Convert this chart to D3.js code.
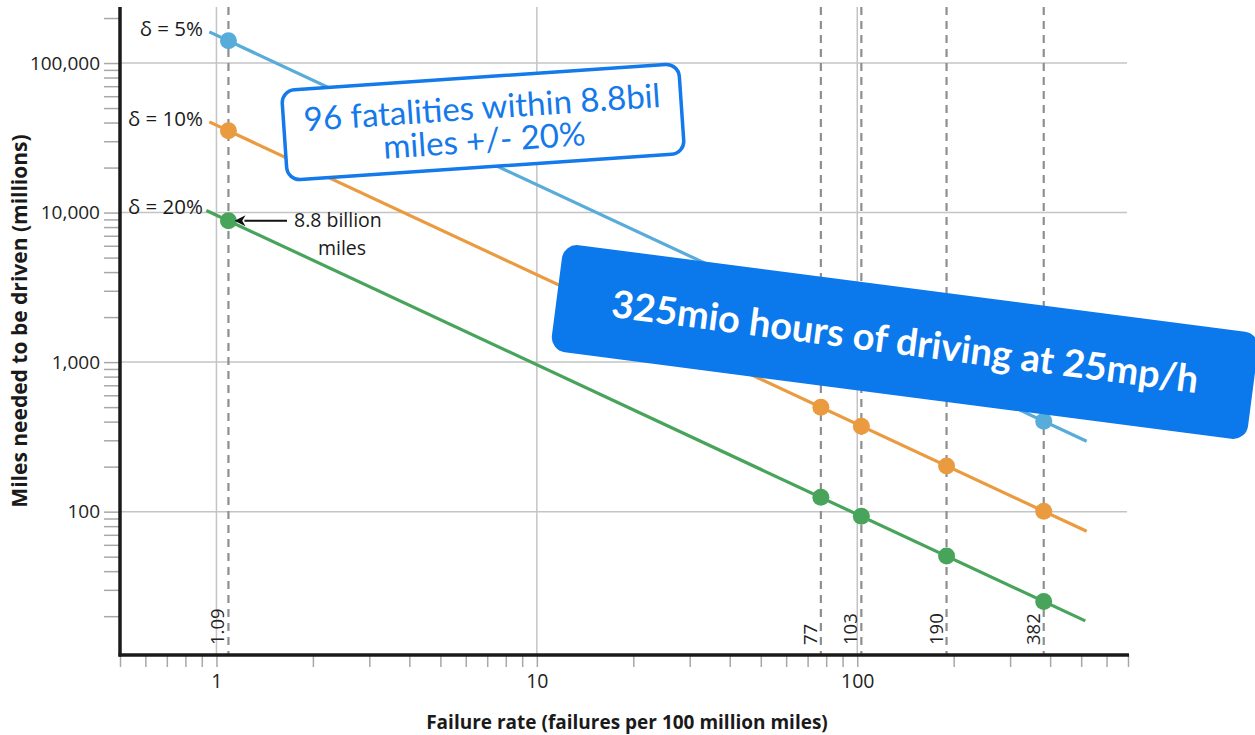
<!DOCTYPE html>
<html>
<head>
<meta charset="utf-8">
<script src="https://cdn.jsdelivr.net/npm/d3@7"></script>
<style>
  html, body { margin: 0; padding: 0; background: #fff; }
  svg { display: block; }
</style>
</head>
<body>
<svg id="chart" width="1255" height="735"></svg>
<script>
// Failure rates (failures per 100 million miles) marked with dashed reference lines
const markedRates = [1.09, 77, 103, 190, 382];
const markedLabels = ["1.09", "77", "103", "190", "382"];

// Precision levels and the miles (millions) needed at each marked rate
const seriesNames = ["δ = 5%", "δ = 10%", "δ = 20%"];
const seriesColors = ["#58acd9", "#eb9b3f", "#48a45a"];
const milesDelta5 = [141000, 1995, 1492, 809, 402];
const milesDelta10 = [35240, 499, 373, 202, 100.6];
const milesDelta20 = [8811, 124.7, 93.2, 50.5, 25.1];

// Line extents for each series: [rate, miles]
const lineDelta5 = [[0.95, 161700], [520, 295.5]];
const lineDelta10 = [[0.95, 40440], [520, 73.9]];
const lineDelta20 = [[0.93, 10330], [515, 18.6]];

// Axis ticks
const xTickLabels = [1, 10, 100];
const yTickLabels = [100, 1000, 10000, 100000];

const svg = d3.select("#chart");
const font = "'Open Sans', 'Noto Sans', sans-serif";
const noteFont = "'Lato', 'Open Sans', sans-serif";

const x = d3.scaleLog().domain([0.5, 700]).range([120, 1128]);
const y = d3.scaleLog().domain([11, 237000]).range([655, 7]);

const gridColor = "#c4c4c4";
const tickColor = "#a8a8a8";

// Horizontal grid at labelled decades
svg.append("g").selectAll("line").data(yTickLabels).join("line")
  .attr("x1", 120).attr("x2", 1127)
  .attr("y1", d => y(d)).attr("y2", d => y(d))
  .attr("stroke", gridColor).attr("stroke-width", 1.5);

// Vertical grid at labelled decades
svg.append("g").selectAll("line").data(xTickLabels).join("line")
  .attr("x1", d => x(d)).attr("x2", d => x(d))
  .attr("y1", 7).attr("y2", 655)
  .attr("stroke", gridColor).attr("stroke-width", 1.5);

// Dashed reference lines at the marked rates
svg.append("g").selectAll("line").data(markedRates).join("line")
  .attr("x1", d => x(d)).attr("x2", d => x(d))
  .attr("y1", 7).attr("y2", 655)
  .attr("stroke", "#8f8f8f").attr("stroke-width", 2.2)
  .attr("stroke-dasharray", "8,6");

// Rotated labels for the reference lines
svg.append("g").selectAll("text").data(markedRates).join("text")
  .attr("transform", d => `translate(${x(d) - 4},645) rotate(-90)`)
  .attr("font-family", font).attr("font-size", 18.5).attr("fill", "#222")
  .attr("text-anchor", "start")
  .text((d, i) => markedLabels[i]);

// X axis: ticks hang below the baseline
const xAxis = d3.axisBottom(x)
  .tickValues(d3.range(5, 10).map(v => v / 10)
    .concat(d3.range(1, 10), d3.range(10, 100, 10), d3.range(100, 701, 100)))
  .tickSize(12)
  .tickFormat(d => xTickLabels.includes(d) ? d3.format(",")(d) : "");
const gx = svg.append("g").attr("transform", "translate(0,655)").call(xAxis);
gx.select(".domain").remove();
gx.selectAll(".tick line").attr("stroke", tickColor).attr("stroke-width", 1.5);
gx.selectAll(".tick text").attr("font-family", font).attr("font-size", 19.5)
  .attr("fill", "#222").attr("dy", "0.93em");

// Y axis: ticks on the outer side
const yAxis = d3.axisLeft(y)
  .tickValues(d3.range(20, 100, 10).concat(d3.range(100, 1000, 100), d3.range(1000, 10000, 1000),
    d3.range(10000, 100000, 10000), [100000, 200000]))
  .tickSize(15)
  .tickFormat(d => yTickLabels.includes(d) ? d3.format(",")(d) : "");
const gy = svg.append("g").attr("transform", "translate(119,0)").call(yAxis);
gy.select(".domain").remove();
gy.selectAll(".tick line").attr("stroke", tickColor).attr("stroke-width", 1.5);
gy.selectAll(".tick text").attr("font-family", font).attr("font-size", 19)
  .attr("fill", "#222").attr("x", -19);

// Axis frame lines
svg.append("line").attr("x1", 120).attr("x2", 120).attr("y1", 7).attr("y2", 656.5)
  .attr("stroke", "#1a1a1a").attr("stroke-width", 3.5);
svg.append("line").attr("x1", 118.5).attr("x2", 1129).attr("y1", 655).attr("y2", 655)
  .attr("stroke", "#1a1a1a").attr("stroke-width", 3.5);

// Axis titles
svg.append("text")
  .attr("transform", "translate(27,321) rotate(-90)")
  .attr("text-anchor", "middle").attr("font-family", font).attr("font-weight", 700)
  .attr("font-size", 21).attr("fill", "#1a1a1a")
  .text("Miles needed to be driven (millions)");
svg.append("text")
  .attr("x", 627).attr("y", 729)
  .attr("text-anchor", "middle").attr("font-family", font).attr("font-weight", 700)
  .attr("font-size", 19).attr("fill", "#1a1a1a")
  .text("Failure rate (failures per 100 million miles)");

// Series lines and points
const lines = [lineDelta5, lineDelta10, lineDelta20];
const points = [milesDelta5, milesDelta10, milesDelta20];
const line = d3.line().x(d => x(d[0])).y(d => y(d[1]));

lines.forEach((ln, i) => {
  svg.append("path").datum(ln)
    .attr("d", line).attr("fill", "none")
    .attr("stroke", seriesColors[i]).attr("stroke-width", 3.2);
});
points.forEach((vals, i) => {
  svg.append("g").selectAll("circle").data(vals).join("circle")
    .attr("cx", (d, j) => x(markedRates[j])).attr("cy", d => y(d))
    .attr("r", 8.5).attr("fill", seriesColors[i]);
});

// Series labels at the left end of each line
lines.forEach((ln, i) => {
  svg.append("text")
    .attr("x", 203).attr("y", y(ln[0][1]) + 4)
    .attr("text-anchor", "end").attr("font-family", font)
    .attr("font-size", 20.5).attr("font-weight", 500).attr("fill", "#1a1a1a")
    .text(seriesNames[i]);
});

// Callout for the 8.8 billion miles point
const calloutX = x(markedRates[0]);
const calloutY = y(milesDelta20[0]);
svg.append("defs").append("marker")
  .attr("id", "arrowHead").attr("viewBox", "0 0 10 10")
  .attr("refX", 1).attr("refY", 5).attr("markerWidth", 5.5).attr("markerHeight", 5.5)
  .attr("orient", "auto-start-reverse")
  .append("path").attr("d", "M0,0 L10,5 L0,10 L3,5 Z").attr("fill", "#111");
svg.append("line")
  .attr("x1", 287).attr("y1", calloutY).attr("x2", calloutX + 16).attr("y2", calloutY)
  .attr("stroke", "#111").attr("stroke-width", 2)
  .attr("marker-end", "url(#arrowHead)");
svg.append("text").attr("x", 294).attr("y", calloutY + 6)
  .attr("text-anchor", "start").attr("font-family", font).attr("font-size", 19.5)
  .attr("font-weight", 500).attr("fill", "#1a1a1a").text("8.8 billion");
svg.append("text").attr("x", 342).attr("y", calloutY + 34)
  .attr("text-anchor", "middle").attr("font-family", font).attr("font-size", 19.5)
  .attr("font-weight", 500).attr("fill", "#1a1a1a").text("miles");

// Annotation: outlined note
const note1 = svg.append("g").attr("transform", "translate(483,122) rotate(-3.9)");
note1.append("rect")
  .attr("x", -199).attr("y", -45).attr("width", 398).attr("height", 90)
  .attr("rx", 13).attr("fill", "#fff")
  .attr("stroke", "#1479ea").attr("stroke-width", 3.5);
note1.append("text").attr("text-anchor", "middle")
  .attr("font-family", noteFont).attr("font-size", 33)
  .attr("fill", "#1479ea")
  .selectAll("tspan").data(["96 fatalities within 8.8bil", "miles +/- 20%"]).join("tspan")
  .attr("x", 0).attr("y", (d, i) => -3 + i * 33)
  .text(d => d);

// Annotation: filled banner
const note2 = svg.append("g").attr("transform", "translate(905,342) rotate(7.4)");
note2.append("rect")
  .attr("x", -351).attr("y", -54).attr("width", 702).attr("height", 108)
  .attr("rx", 15).attr("fill", "#0b78ec");
note2.append("text").attr("x", 0).attr("y", 13)
  .attr("text-anchor", "middle")
  .attr("font-family", noteFont).attr("font-weight", 700)
  .attr("font-size", 38).attr("fill", "#fff")
  .text("325mio hours of driving at 25mp/h");
</script>
</body>
</html>
